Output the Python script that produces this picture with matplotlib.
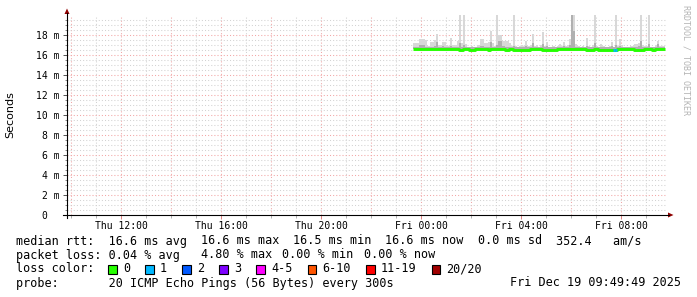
import numpy as np
import matplotlib
matplotlib.use("Agg")
import matplotlib.pyplot as plt
from matplotlib.lines import Line2D
from matplotlib.patches import Polygon, Rectangle

W, H = 697, 297
MONO = "DejaVu Sans Mono"

# time in hours relative to Fri 00:00, one smokeping step = 5 min
first_step = -20 / 60
step = 5 / 60
graph_end = 9 + 49 / 60 + 49 / 3600

# median rtt per step (ms)
rtt_median = [
    16.63, 16.63, 16.63, 16.63, 16.63, 16.63, 16.63, 16.63, 16.63, 16.63,
    16.63, 16.63, 16.63, 16.63, 16.63, 16.63, 16.63, 16.63, 16.63, 16.63,
    16.63, 16.63, 16.52, 16.52, 16.63, 16.63, 16.63, 16.52, 16.52, 16.52,
    16.63, 16.63, 16.63, 16.63, 16.63, 16.63, 16.52, 16.63, 16.63, 16.63,
    16.63, 16.63, 16.63, 16.63, 16.52, 16.52, 16.63, 16.63, 16.52, 16.52,
    16.52, 16.52, 16.52, 16.52, 16.52, 16.52, 16.63, 16.63, 16.63, 16.63,
    16.63, 16.63, 16.52, 16.52, 16.52, 16.52, 16.52, 16.52, 16.52, 16.63,
    16.63, 16.63, 16.63, 16.63, 16.63, 16.63, 16.63, 16.63, 16.63, 16.63,
    16.63, 16.63, 16.63, 16.52, 16.52, 16.52, 16.52, 16.63, 16.63, 16.52,
    16.52, 16.52, 16.52, 16.52, 16.52, 16.52, 16.52, 16.52, 16.63, 16.63,
    16.63, 16.63, 16.63, 16.63, 16.63, 16.63, 16.52, 16.52, 16.52, 16.52,
    16.52, 16.63, 16.63, 16.63, 16.63, 16.52, 16.63, 16.63, 16.63, 16.63,
    16.63,
]

# highest ping per step (ms), outer smoke
rtt_max = [
    17.2, 17.2, 17.2, 17.6, 17.6, 17.6, 17.5, 16.9, 17.3, 17.3,
    17.5, 18.1, 17.0, 17.0, 17.3, 17.3, 17.0, 16.9, 17.7, 17.0,
    17.0, 17.4, 20.0, 17.2, 20.0, 17.1, 16.8, 16.8, 16.9, 16.8,
    16.8, 17.0, 17.6, 17.6, 17.2, 17.2, 17.3, 18.4, 17.2, 16.9,
    20.0, 18.0, 18.0, 17.4, 17.4, 17.4, 17.2, 16.9, 20.0, 16.9,
    16.8, 16.9, 17.0, 16.9, 17.4, 16.9, 17.0, 18.1, 16.9, 17.0,
    16.8, 17.0, 18.3, 16.9, 17.3, 16.8, 16.8, 16.9, 16.8, 16.9,
    17.1, 16.9, 17.3, 16.9, 17.0, 17.6, 20.0, 20.0, 17.1, 16.9,
    16.8, 16.9, 16.8, 17.7, 16.9, 16.8, 17.0, 20.0, 16.9, 16.8,
    17.1, 16.9, 16.8, 16.8, 16.9, 17.3, 16.8, 20.0, 16.9, 17.6,
    17.0, 16.8, 16.8, 16.8, 16.9, 16.9, 17.1, 17.1, 17.2, 20.0,
    17.0, 16.9, 16.9, 20.0, 16.8, 16.8, 17.0, 17.4, 16.9, 16.9,
    16.9,
]

# upper edge of the denser inner smoke (ms)
rtt_inner = [
    16.8, 16.8, 16.8, 17.0, 17.0, 17.0, 16.8, 16.8, 16.8, 16.8,
    16.9, 17.3, 16.8, 16.8, 16.9, 16.8, 16.8, 16.8, 16.9, 16.8,
    16.8, 16.8, 17.2, 16.8, 17.0, 16.8, 16.8, 16.8, 16.8, 16.8,
    16.8, 16.8, 16.9, 16.9, 16.8, 16.8, 16.8, 17.3, 16.8, 16.8,
    17.0, 17.4, 17.4, 16.9, 16.8, 16.8, 16.8, 16.8, 16.9, 16.8,
    16.8, 16.8, 16.8, 16.8, 16.9, 16.8, 16.8, 17.2, 16.8, 16.8,
    16.8, 16.8, 17.1, 16.8, 16.9, 16.8, 16.8, 16.8, 16.8, 16.8,
    16.8, 16.8, 16.9, 16.8, 16.8, 17.0, 20.0, 18.4, 16.8, 16.8,
    16.8, 16.8, 16.8, 16.9, 16.8, 16.8, 16.8, 17.2, 16.8, 16.8,
    16.8, 16.8, 16.8, 16.8, 16.8, 16.9, 16.8, 17.0, 16.8, 16.9,
    16.8, 16.8, 16.8, 16.8, 16.8, 16.8, 16.8, 16.8, 16.9, 17.4,
    16.8, 16.8, 16.8, 17.1, 16.8, 16.8, 16.8, 17.1, 16.8, 16.8,
    16.8,
]

# lost pings out of 20 per step
loss = [0] * 96 + [1, 1] + [0] * 23

x_ticks = [-12, -8, -4, 0, 4, 8]
x_labels = ["Thu 12:00", "Thu 16:00", "Thu 20:00", "Fri 00:00", "Fri 04:00", "Fri 08:00"]
y_ticks = [0, 2, 4, 6, 8, 10, 12, 14, 16, 18]
y_labels = ["0  ", "2 m", "4 m", "6 m", "8 m", "10 m", "12 m", "14 m", "16 m", "18 m"]

loss_labels = ["0", "1", "2", "3", "4-5", "6-10", "11-19", "20/20"]
loss_colors = ["#26ff00", "#00b8ff", "#0059ff", "#7e00ff", "#ff00ff", "#ff5500", "#ff0000", "#a00000"]

rtt_stats = ["median rtt:  16.6 ms avg", "16.6 ms max", "16.5 ms min", "16.6 ms now",
             "0.0 ms sd", "352.4   am/s"]
loss_stats = ["packet loss: 0.04 % avg", "4.80 % max", "0.00 % min", "0.00 % now"]
probe_text = "probe:       20 ICMP Echo Pings (56 Bytes) every 300s"
stamp_text = "Fri Dec 19 09:49:49 2025"


def loss_bucket(n):
    if n <= 3:
        return n
    if n <= 5:
        return 4
    if n <= 10:
        return 5
    if n <= 19:
        return 6
    return 7


def fx(x):
    return x / W


def fy(y):
    return 1 - y / H


fig = plt.figure(figsize=(W / 100, H / 100), dpi=100)
fig.patch.set_facecolor("white")
ax = fig.add_axes([fx(67), fy(215), 600 / W, 200 / H])
ax.set_xlim(graph_end - 24, graph_end)
ax.set_ylim(0, 20)
for s in ax.spines.values():
    s.set_visible(False)

# grid
dots = (0, (1, 2))
major_c, minor_c = "#f2a6a6", "#d2d2d2"
for h in range(-14, 10):
    ax.axvline(h, color=major_c if h % 2 == 0 else minor_c, lw=0.75, ls=dots, zorder=0)
for yv in np.arange(0.5, 20, 0.5):
    ax.axhline(yv, color=major_c if yv % 2 == 0 else minor_c, lw=0.75, ls=dots, zorder=0)

t = first_step + step * np.arange(len(rtt_median))
med = np.array(rtt_median)

# smoke
ax.bar(t, np.array(rtt_max) - med, bottom=med, width=step, align="edge",
       color="#d8d8d8", linewidth=0, zorder=2)
ax.bar(t, np.array(rtt_inner) - med, bottom=med, width=step, align="edge",
       color="#b0b0b0", linewidth=0, zorder=3)

# median line coloured by loss
xs = np.append(t, t[-1] + step)
ys = np.append(med, med[-1])
ax.step(xs, ys, where="post", color=loss_colors[0], lw=2.1, zorder=4,
        solid_capstyle="butt")
for i, n in enumerate(loss):
    if n > 0:
        ax.plot([t[i], t[i] + step], [med[i], med[i]], color=loss_colors[loss_bucket(n)],
                lw=2.1, solid_capstyle="butt", zorder=5)

# ticks
ax.set_xticks(x_ticks, x_labels)
ax.set_xticks(range(-14, 10), minor=True)
ax.set_yticks(y_ticks, y_labels)
ax.set_yticks(np.arange(0.5, 20, 0.5), minor=True)
ax.tick_params(axis="x", which="major", length=3, width=0.7, color="#e08080", pad=1,
               labelsize=7, labelcolor="black")
ax.tick_params(axis="x", which="minor", length=2, width=0.7, color="#b0b0b0")
ax.tick_params(axis="y", which="major", length=3, width=0.7, color="#555555", pad=2.5,
               labelsize=7, labelcolor="black")
ax.tick_params(axis="y", which="minor", length=1.5, width=0.7, color="#888888")
for lab in ax.get_xticklabels() + ax.get_yticklabels():
    lab.set_family(MONO)

# axis lines with arrow heads
fig.add_artist(Line2D([fx(63), fx(669)], [fy(215), fy(215)], color="black", lw=0.8))
fig.add_artist(Line2D([fx(67), fx(67)], [fy(218), fy(13)], color="black", lw=0.8))
fig.add_artist(Polygon([[fx(64.5), fy(14)], [fx(69.5), fy(14)], [fx(67), fy(8.5)]],
                       closed=True, color="#900000", lw=0))
fig.add_artist(Polygon([[fx(668), fy(212.5)], [fx(668), fy(217.5)], [fx(673.5), fy(215)]],
                       closed=True, color="#900000", lw=0))

# labels
fig.text(fx(10), fy(115), "Seconds", rotation=90, ha="center", va="center",
         size=8, family="DejaVu Sans")
fig.text(fx(686), fy(5), "RRDTOOL / TOBI OETIKER", rotation=270, ha="center", va="top",
         size=6, color="#b4b4b4", family=MONO)

# legend block
cw = 7.1
x0 = 16
for s, col in zip(rtt_stats, [0, 26, 39, 52, 65, 76]):
    fig.text(fx(x0 + col * cw), fy(241), s, family=MONO, size=8.5, va="center")
for s, col in zip(loss_stats, [0, 26, 37.5, 49]):
    fig.text(fx(x0 + col * cw), fy(255), s, family=MONO, size=8.5, va="center")
fig.text(fx(x0), fy(269), "loss color:", family=MONO, size=8.5, va="center")
bx = 108
for lab, c in zip(loss_labels, loss_colors):
    fig.add_artist(Rectangle((fx(bx), fy(273.5)), 8.5 / W, 8.5 / H, facecolor=c,
                             edgecolor="black", lw=0.8))
    fig.text(fx(bx + 15), fy(269), lab, family=MONO, size=8.5, va="center")
    bx += 14 + cw * len(lab) + 16
fig.text(fx(x0), fy(283), probe_text, family=MONO, size=8.5, va="center")
fig.text(fx(681), fy(283), stamp_text, family=MONO, size=8.5, va="center", ha="right")

fig.savefig("out.png", dpi=100, facecolor="white")
